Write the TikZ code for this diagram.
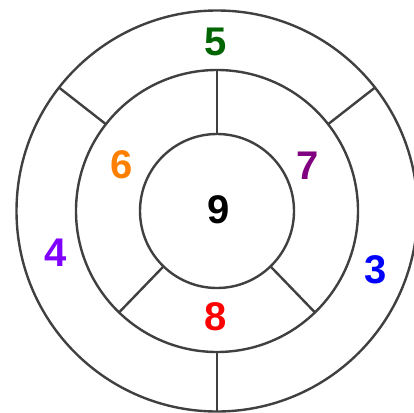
\documentclass[tikz,border=0pt]{standalone}
\usepackage{fontspec}
\setmainfont{Liberation Sans}
\definecolor{ln}{RGB}{64,64,64}
\definecolor{cfive}{RGB}{0,100,0}
\definecolor{csix}{RGB}{255,128,0}
\definecolor{cseven}{RGB}{128,0,128}
\definecolor{cfour}{RGB}{128,0,255}
\definecolor{cthree}{RGB}{0,0,255}
\definecolor{ceight}{RGB}{255,0,0}
\begin{document}
\begin{tikzpicture}[x=1pt,y=-1pt,
  ring/.style={circle,draw=ln,line width=2.4pt,inner sep=0pt,outer sep=0pt,minimum size=#1},
  spoke/.style={draw=ln,line width=2.4pt},
  num/.style={font=\fontsize{40}{40}\selectfont\bfseries,inner sep=0pt}]
\useasboundingbox (0,0) rectangle (414,412);
\begin{scope}
\clip (0,0) rectangle (414,412);
\coordinate (c) at (217,211);
\node[ring=401pt] (outer) at (c) {};
\node[ring=282pt] (mid) at (c) {};
\node[ring=154pt] (inner) at (c) {};
\draw[spoke] (inner.90) -- (mid.90);
\draw[spoke] (mid.270) -- (outer.270);
\draw[spoke] (mid.142) -- (outer.142);
\draw[spoke] (mid.38) -- (outer.38);
\draw[spoke] (inner.226) -- (mid.226);
\draw[spoke] (inner.314) -- (mid.314);
\end{scope}
\node[num,text=cfive] (n5) at (216,42) {5};
\node[num,text=csix] (n6) at (122,165) {6};
\node[num,text=cseven] (n7) at (308,166) {7};
\node[num,text=black] (n9) at (219,210) {9};
\node[num,text=cfour] (n4) at (56,253) {4};
\node[num,text=cthree] (n3) at (376,270) {3};
\node[num,text=ceight] (n8) at (216,317) {8};
\end{tikzpicture}
\end{document}
